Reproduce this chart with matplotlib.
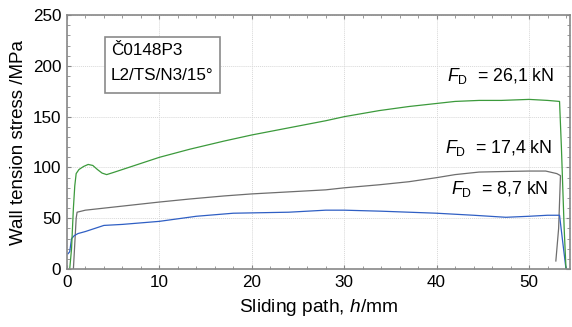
import matplotlib.pyplot as plt
import matplotlib as mpl
from matplotlib.patches import Rectangle
from matplotlib.ticker import MultipleLocator

mpl.rcParams.update({'font.family': 'Liberation Sans', 'font.size': 11,
                     'mathtext.fontset': 'custom',
                     'mathtext.rm': 'Liberation Sans',
                     'mathtext.it': 'Liberation Sans:italic'})

# F_D = 26,1 kN
x_261 = [0.3, 0.5, 0.7, 0.85, 1.0, 1.3, 1.8, 2.3, 2.8, 3.3, 3.8, 4.3, 5, 7, 10, 13.3, 17, 20,
         24, 28, 30, 33.8, 37, 40, 42, 44.6, 47, 50, 52, 53.3, 53.5, 53.8, 54.0]
y_261 = [0, 20, 60, 82, 94, 98, 101, 103, 102, 98, 94.5, 93, 95, 101, 110, 118, 126, 132,
         139, 146, 150, 156, 160, 163, 165, 166, 166, 167, 166, 165, 120, 40, 0]

# F_D = 17,4 kN
x_174 = [0.7, 0.85, 1.0, 1.1, 2, 4, 7, 10, 13.3, 17, 20, 24, 28, 30, 33.8, 37, 40, 42,
         44.6, 47, 50, 51.8, 53.0, 53.4, 53.2, 52.9]
y_174 = [0, 25, 50, 56, 58, 60, 63, 66, 69, 72, 74, 76, 78, 80, 83, 86, 90, 93,
         95.5, 96, 96.5, 96.5, 94, 92, 40, 8]

# F_D = 8,7 kN
x_87 = [0.1, 0.3, 0.5, 0.8, 1.2, 2, 3, 4, 6, 10, 14, 18, 24, 28, 30, 34, 37, 40, 44,
        47.5, 50, 52, 53.3, 53.6, 54.0]
y_87 = [15, 17, 30, 33, 35, 37, 40, 43, 44, 47, 52, 55, 56, 58, 58, 57, 56, 55, 53,
        51, 52, 53, 53, 30, 0]

labels = [r'$F_\mathrm{D}$  = 26,1 kN', r'$F_\mathrm{D}$  = 17,4 kN', r'$F_\mathrm{D}$  = 8,7 kN']

fig = plt.figure(figsize=(5.72, 3.27), dpi=100)
ax = fig.add_axes([0.117, 0.177, 0.879, 0.777])

ax.plot(x_174, y_174, color='#6e6e6e', lw=0.9)
ax.plot(x_87, y_87, color='#2f5fc4', lw=0.9)
ax.plot(x_261, y_261, color='#3c9a3c', lw=0.9)

ax.set_xlim(0, 54.4)
ax.set_ylim(0, 250)
ax.xaxis.set_major_locator(MultipleLocator(10))
ax.xaxis.set_minor_locator(MultipleLocator(2))
ax.yaxis.set_major_locator(MultipleLocator(50))
ax.yaxis.set_minor_locator(MultipleLocator(10))
ax.tick_params(which='both', direction='in', top=True, right=True, color='#888888')
ax.tick_params(which='major', length=3, labelsize=12.3, pad=4)
ax.tick_params(which='minor', length=2)
ax.grid(True, which='major', color='#d8d8d8', lw=0.7, ls=(0, (1, 1)))
for s in ax.spines.values():
    s.set_color('#888888')
    s.set_linewidth(1.2)

ax.set_xlabel(r'Sliding path, $h$/mm', fontsize=13.8, labelpad=5)
ax.set_ylabel('Wall tension stress /MPa', fontsize=13.5, labelpad=4)

ax.add_patch(Rectangle((0.0755, 0.693), 0.229, 0.22, transform=ax.transAxes,
                       fill=True, facecolor='white', edgecolor='#8a8a8a', lw=1.2, zorder=5))
ax.text(0.0875, 0.862, 'Č0148P3', transform=ax.transAxes, va='center', fontsize=12.3, zorder=6)
ax.text(0.0875, 0.764, 'L2/TS/N3/15°', transform=ax.transAxes, va='center', fontsize=12.3, zorder=6)

ax.text(0.970, 0.760, labels[0], transform=ax.transAxes, ha='right', va='center', fontsize=12.8)
ax.text(0.966, 0.476, labels[1], transform=ax.transAxes, ha='right', va='center', fontsize=12.8)
ax.text(0.958, 0.315, labels[2], transform=ax.transAxes, ha='right', va='center', fontsize=12.8)

fig.savefig('out.png', dpi=100)
